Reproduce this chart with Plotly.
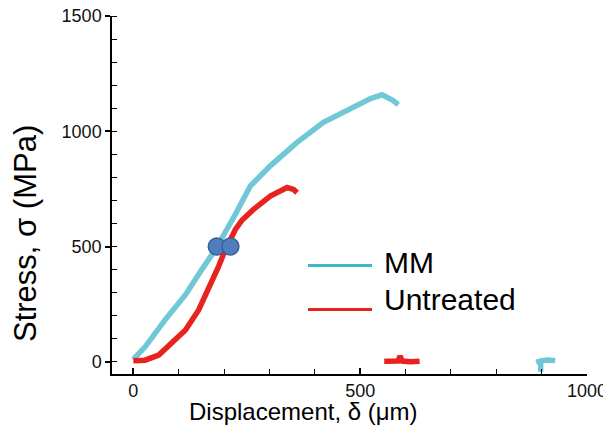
import plotly.graph_objects as go

# ---- data ----
mm_x = [0, 26, 70, 115, 151, 181, 225, 258, 302, 361, 419, 478, 522, 548, 573, 584,
        None, 888, 900, 915, 930, None, 898, 898]
mm_y = [10, 65, 182, 291, 400, 487, 640, 763, 850, 952, 1039, 1097, 1141, 1158, 1133, 1115,
        None, -3, 5, 8, 5, None, 5, -43]

un_x = [0, 26, 56, 85, 115, 144, 166, 188, 203, 225, 240, 265, 302, 339, 353, 361,
        None, 553, 570, 583, 588, 593, 610, 631]
un_y = [5, 7, 29, 80, 138, 225, 313, 414, 487, 574, 615, 661, 719, 756, 748, 734,
        None, 2, 0, 3, 25, 3, 0, 2]

pt_x = [184, 214]
pt_y = [500, 500]

legend_names = ["MM", "Untreated"]
x_tick_vals = [0, 500, 1000]
y_tick_vals = [0, 500, 1000, 1500]

# ---- styles ----
MM_COL = "#70C8D6"
UN_COL = "#E8231F"
MM_LEG = "#3DB6CF"
UN_LEG = "#E8231F"
FONT = "Liberation Sans, Arial, sans-serif"

fig = go.Figure()
fig.add_trace(go.Scatter(x=mm_x, y=mm_y, mode="lines", name=legend_names[0],
                         line=dict(color=MM_COL, width=5.5), showlegend=False))
fig.add_trace(go.Scatter(x=un_x, y=un_y, mode="lines", name=legend_names[1],
                         line=dict(color=UN_COL, width=5.5), showlegend=False))
fig.add_trace(go.Scatter(x=pt_x, y=pt_y, mode="markers", showlegend=False,
                         marker=dict(size=17, color="#4F7DBF",
                                     line=dict(color="#3A5F90", width=1.5))))

# page body has an 8px default margin -> figure starts at (8, 8) in the window
OFF = 8
W, H = 611 - OFF, 425 - OFF
L, R, T, B = 112 - OFF, 24, 16 - OFF, 51
pw, ph = W - L - R, H - T - B

def px(xp):  # window pixel -> paper x
    return (xp - 112) / pw

def py(yp):  # window pixel -> paper y
    return (374 - yp) / ph

common = dict(showgrid=False, zeroline=False, automargin=False, showline=True,
              linecolor="black", linewidth=1.5)

fig.update_layout(
    width=W, height=H,
    margin=dict(l=L, r=R, t=T, b=B, pad=0, autoexpand=False),
    paper_bgcolor="white", plot_bgcolor="white",
    font=dict(family=FONT, size=18, color="#111111"),
    showlegend=False,
    xaxis=dict(range=[-47, 1000], tickvals=x_tick_vals, ticks="inside", ticklen=6,
               tickwidth=1.5, tickcolor="black", ticklabeloverflow="allow",
               minor=dict(dtick=100, ticks="inside", ticklen=5, tickwidth=1,
                          tickcolor="black"),
               tickfont=dict(size=18), **common),
    yaxis=dict(range=[-53, 1500], tickvals=y_tick_vals, ticks="outside", ticklen=5,
               tickwidth=1.5, tickcolor="black", ticklabeloverflow="allow",
               minor=dict(dtick=100, ticks="inside", ticklen=5, tickwidth=1,
                          tickcolor="black"),
               tickfont=dict(size=18), **common),
    xaxis2=dict(overlaying="x", side="top", range=[-47, 1000], tickvals=[0],
                ticks="inside", ticklen=6, tickwidth=1.5, tickcolor="black",
                showticklabels=False, **common),
    yaxis2=dict(overlaying="y", side="right", range=[-53, 1500], dtick=100,
                ticks="inside", ticklen=5, tickwidth=1.5, tickcolor="black",
                showticklabels=False, **common),
)

# axis titles
fig.add_annotation(text="Displacement, \u03b4 (\u03bcm)", xref="paper", yref="paper",
                   x=px(303.5), y=py(411), xanchor="center", yanchor="middle",
                   showarrow=False, font=dict(size=24, color="black", family=FONT))
fig.add_annotation(text="Stress, \u03c3 (MPa)", xref="paper", yref="paper",
                   x=px(25), y=py(234), xanchor="center", yanchor="middle",
                   textangle=-90, showarrow=False,
                   font=dict(size=31, color="black", family=FONT))

# legend (drawn manually to match long sample lines)
for name, col, ly, ty in [(legend_names[0], MM_LEG, 265.5, 262),
                          (legend_names[1], UN_LEG, 309.5, 299)]:
    fig.add_shape(type="line", xref="paper", yref="paper",
                  x0=px(308), x1=px(372), y0=py(ly), y1=py(ly),
                  line=dict(color=col, width=3))
    fig.add_annotation(text=name, xref="paper", yref="paper", x=px(382), y=py(ty),
                       xanchor="left", yanchor="middle", showarrow=False,
                       font=dict(size=30, color="black", family=FONT))

fig.write_html("out.html")
